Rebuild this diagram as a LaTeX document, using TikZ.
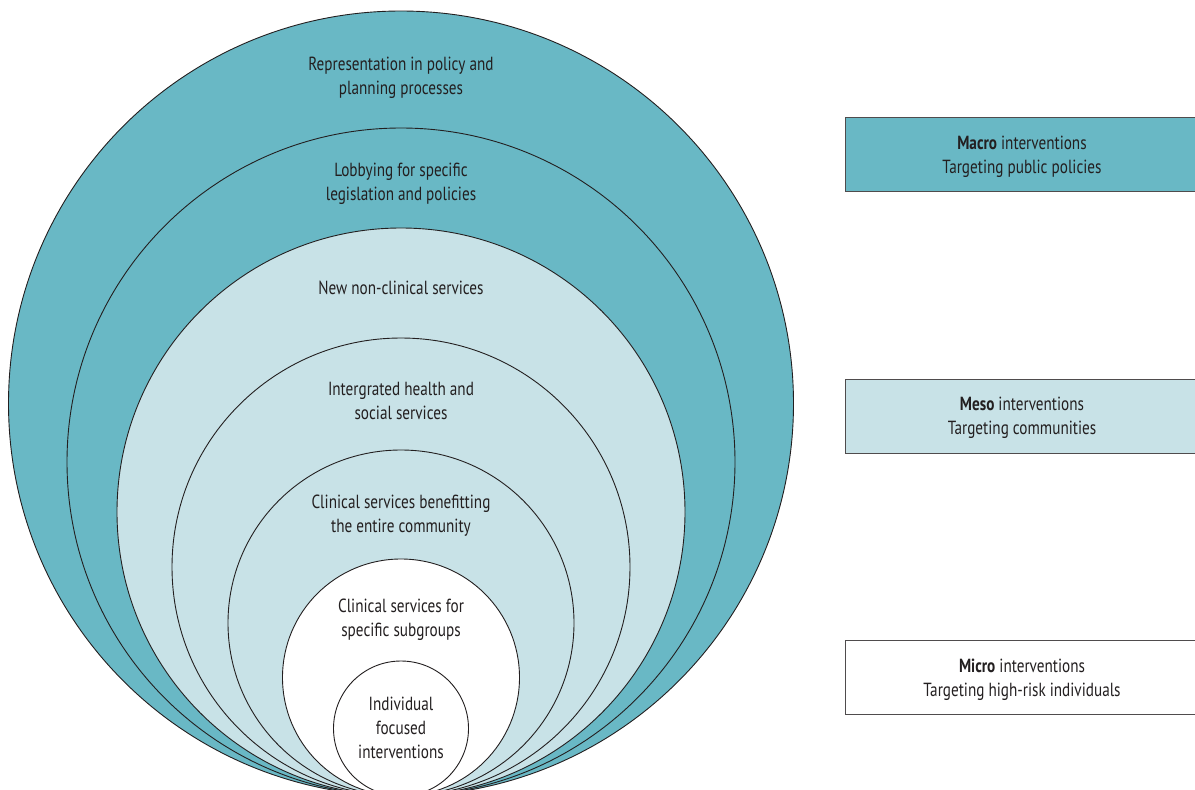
\documentclass[tikz,border=0pt]{standalone}
\usepackage{fontspec}
\setmainfont[FakeStretch=0.8]{PT Sans}
\definecolor{dteal}{HTML}{69B8C5}
\definecolor{lteal}{HTML}{C8E2E7}
\definecolor{ink}{HTML}{231F20}
\tikzset{
  ring/.style={circle, draw=ink, line width=0.9pt, inner sep=0pt, outer sep=0pt, anchor=south},
  lbl/.style={align=center, text=ink, font=\fontsize{19}{24}\selectfont, inner sep=0pt},
  levelbox/.style={draw=ink!80, line width=1pt, minimum height=74pt, minimum width=360pt, anchor=north west, inner sep=0pt}
}
\begin{document}
\begin{tikzpicture}[x=1pt,y=-1pt]
\useasboundingbox (0,0) rectangle (1195,790);
\clip (0,0) rectangle (1195,790);
\coordinate (B) at (401,796);
\node[ring, fill=dteal, minimum size=785pt] (c1) at (B) {};
\node[ring, fill=dteal, minimum size=668pt] (c2) at (B) {};
\node[ring, fill=lteal, minimum size=568pt] (c3) at (B) {};
\node[ring, fill=lteal, minimum size=458pt] (c4) at (B) {};
\node[ring, fill=lteal, minimum size=346pt] (c5) at (B) {};
\node[ring, fill=white, minimum size=237pt] (c6) at (B) {};
\node[ring, fill=white, minimum size=135pt] (c7) at (B) {};

\node[lbl] (t1) at (401,78) {Representation in policy and\\planning processes};
\node[lbl] (t2) at (401,184) {Lobbying for specific\\legislation and policies};
\node[lbl] (t3) at (401,288) {New non-clinical services};
\node[lbl] (t4) at (401,401) {Intergrated health and\\social services};
\node[lbl] (t5) at (401,516) {Clinical services benefitting\\the entire community};
\node[lbl] (t6) at (401,620) {Clinical services for\\specific subgroups};
\node[lbl] (t7) at (401,728) {Individual\\focused\\interventions};

\node[levelbox, fill=dteal] (macro) at (845,117) {};
\node[levelbox, fill=lteal] (meso) at (845,379) {};
\node[levelbox, fill=white] (micro) at (845,640) {};
\node[lbl] (mt) at (1022,157) {\textbf{Macro} interventions\\Targeting public policies};
\node[lbl] (mst) at (1022,418) {\textbf{Meso} interventions\\Targeting communities};
\node[lbl] (mit) at (1022,680) {\textbf{Micro} interventions\\Targeting high-risk individuals};
\end{tikzpicture}
\end{document}
